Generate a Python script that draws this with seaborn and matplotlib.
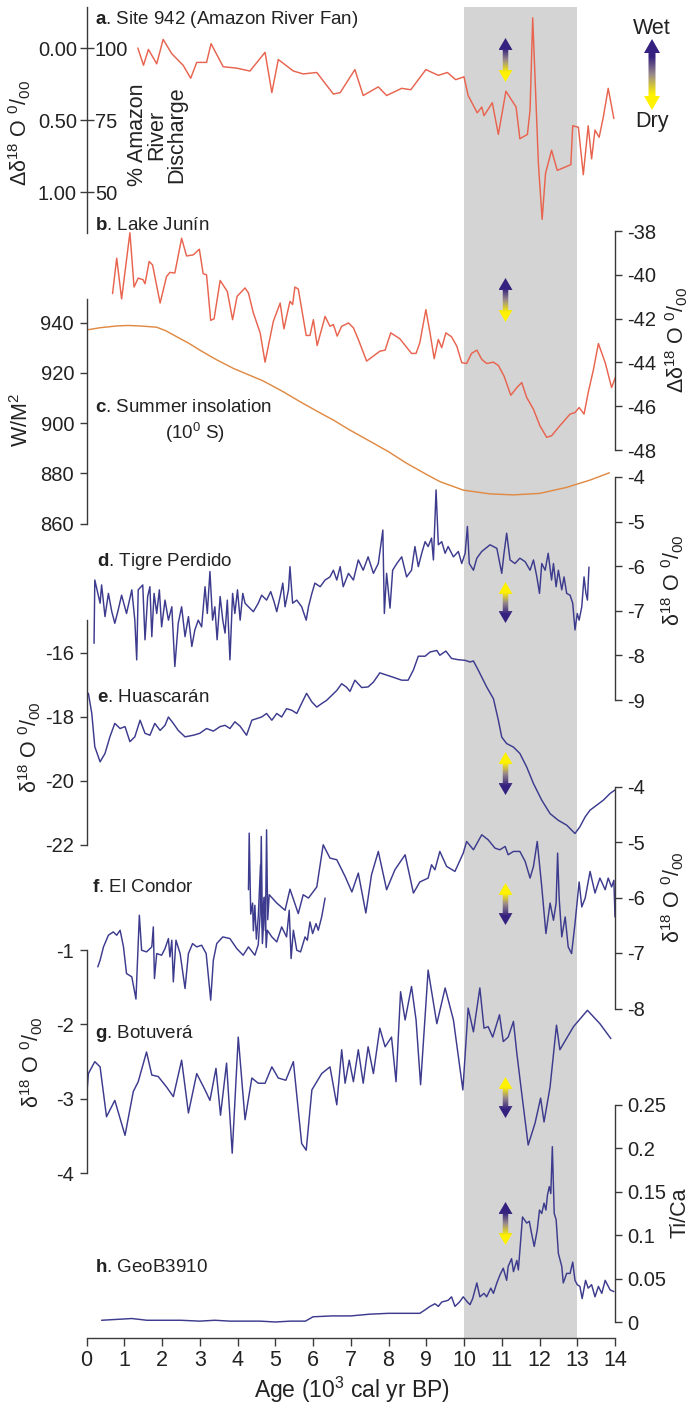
import numpy as np
import matplotlib
matplotlib.use("Agg")
import matplotlib.pyplot as plt
import seaborn as sns
from matplotlib.patches import Polygon
from matplotlib.colors import LinearSegmentedColormap

# ---------------- records (age in kyr BP) ----------------
site942_age = [1.36, 1.51, 1.64, 1.86, 2.03, 2.26, 2.56, 2.76, 2.92, 3.18, 3.30, 3.62, 3.98, 4.33,
               4.73, 4.91, 5.08, 5.48, 5.74, 6.10, 6.54, 6.72, 7.11, 7.33, 7.73, 7.95, 8.35, 8.59,
               8.99, 9.32, 9.56, 9.78, 10.00, 10.11, 10.35, 10.47, 10.53, 10.75, 10.91, 11.11,
               11.38, 11.48, 11.68, 11.75, 11.82, 11.97, 12.07, 12.16, 12.32, 12.47, 12.83, 12.88,
               13.03, 13.16, 13.29, 13.38, 13.47, 13.58, 13.69, 13.82, 13.97]
site942_dd18o = [0.00, 0.12, 0.01, 0.11, -0.06, 0.04, 0.12, 0.21, 0.10, 0.10, -0.03, 0.13, 0.14, 0.16,
                 0.03, 0.31, 0.08, 0.16, 0.18, 0.17, 0.32, 0.31, 0.15, 0.33, 0.27, 0.33, 0.28, 0.29,
                 0.15, 0.19, 0.17, 0.22, 0.20, 0.33, 0.45, 0.41, 0.47, 0.38, 0.60, 0.30,
                 0.41, 0.63, 0.60, 0.43, -0.21, 0.80, 1.19, 0.87, 0.71, 0.85, 0.81, 0.54,
                 0.55, 0.88, 0.54, 0.77, 0.57, 0.62, 0.48, 0.28, 0.49]

junin_age = [0.69, 0.80, 0.93, 1.15, 1.26, 1.37, 1.50, 1.55, 1.66, 1.75, 1.95, 2.12, 2.21, 2.34, 2.52,
             2.65, 2.83, 2.99, 3.09, 3.18, 3.29, 3.38, 3.54, 3.73, 3.87, 3.99, 4.20, 4.29, 4.42, 4.60,
             4.73, 4.95, 5.13, 5.23, 5.30, 5.39, 5.46, 5.52, 5.61, 5.82, 5.92, 6.01, 6.11, 6.32, 6.45,
             6.54, 6.64, 6.76, 6.94, 7.07, 7.20, 7.42, 7.60, 7.77, 7.91, 8.06, 8.30, 8.61, 8.73, 8.83,
             8.99, 9.10, 9.21, 9.32, 9.41, 9.52, 9.67, 9.81, 9.94, 10.07, 10.20, 10.34, 10.47, 10.60,
             10.78, 10.91, 11.06, 11.24, 11.40, 11.53, 11.66, 11.84, 12.01, 12.19, 12.32, 12.54,
             12.81, 12.94, 13.05, 13.18, 13.29, 13.43, 13.56, 13.74, 13.91, 14.03]
junin_dd18o = [-40.86, -39.24, -41.10, -38.08, -40.56, -40.15, -40.23, -40.41, -39.39, -39.55, -41.29,
               -40.08, -39.89, -39.92, -38.33, -39.14, -39.09, -38.83, -39.95, -40.00, -42.08, -42.01,
               -40.26, -40.76, -42.05, -40.98, -40.60, -40.83, -41.74, -42.65, -43.99, -42.12, -41.29,
               -42.47, -41.90, -41.21, -41.36, -40.56, -40.65, -42.77, -42.77, -42.05, -43.23, -41.90,
               -42.35, -42.27, -42.80, -42.35, -42.20, -42.42, -42.95, -43.94, -43.71, -43.49, -43.44,
               -42.65, -42.92, -43.59, -43.59, -43.10, -41.59, -42.65, -43.83, -42.95, -43.33, -42.65,
               -42.83, -43.26, -44.01, -44.05, -43.59, -43.44, -43.86, -44.05, -43.99, -44.14, -44.62,
               -45.50, -45.15, -44.92, -45.60, -46.14, -46.89, -47.42, -47.35, -46.89, -46.36, -46.29,
               -46.06, -46.36, -45.38, -44.32, -43.14, -44.01, -45.15, -44.59]

insol_age = [0.0, 0.36, 0.8, 1.1, 1.42, 1.86, 2.1, 2.39, 2.7, 3.0, 3.4, 3.89, 4.3, 4.68, 5.2, 5.66,
             6.1, 6.54, 6.98, 7.6, 8.0, 8.48, 9.0, 9.36, 9.98, 10.69, 11.31, 12.01, 12.72, 13.34, 13.85]
insol_wm2 = [937.1, 938.0, 938.7, 938.9, 938.7, 938.2, 936.8, 934.4, 931.9, 929.1, 925.6, 921.8,
             919.2, 916.8, 912.6, 908.5, 904.8, 901.2, 897.2, 892.0, 888.6, 884.0, 879.6, 876.7,
             873.3, 871.8, 871.4, 872.0, 874.4, 877.3, 880.2]

tigre_age = [0.20, 0.22, 0.36, 0.40, 0.49, 0.58, 0.67, 0.75, 0.84, 0.93, 1.06, 1.20, 1.28, 1.33, 1.37,
             1.49, 1.55, 1.62, 1.68, 1.73, 1.79, 1.86, 1.93, 1.99, 2.08, 2.17, 2.26, 2.34, 2.43, 2.52,
             2.61, 2.70, 2.79, 2.87, 2.96, 3.05, 3.14, 3.20, 3.27, 3.34, 3.40, 3.46, 3.54, 3.61, 3.67,
             3.73, 3.80, 3.87, 3.93, 4.00, 4.07, 4.14, 4.20, 4.29, 4.42, 4.55, 4.64, 4.77, 4.88, 4.97,
             5.04, 5.13, 5.20, 5.26, 5.35, 5.39, 5.46, 5.57, 5.70, 5.82, 5.88, 5.97, 6.05, 6.19, 6.32,
             6.45, 6.54, 6.63, 6.72, 6.80, 6.94, 7.07, 7.20, 7.33, 7.46, 7.60, 7.73, 7.85, 7.89, 7.95,
             8.04, 8.11, 8.22, 8.35, 8.48, 8.61, 8.70, 8.79, 8.88, 8.97, 9.05, 9.14, 9.19, 9.26, 9.32,
             9.41, 9.50, 9.58, 9.72, 9.85, 9.94, 10.03, 10.09, 10.14, 10.25, 10.34, 10.47, 10.69,
             10.87, 11.00, 11.06, 11.13, 11.22, 11.35, 11.48, 11.62, 11.75, 11.84, 11.93, 12.00,
             12.06, 12.15, 12.23, 12.32, 12.37, 12.44, 12.50, 12.59, 12.65, 12.72, 12.81, 12.88,
             12.94, 13.00, 13.05, 13.12, 13.18, 13.23, 13.27, 13.31]
tigre_d18o = [-7.73, -6.31, -6.83, -6.42, -7.13, -6.61, -7.02, -7.28, -6.98, -6.65, -7.06, -6.53, -7.21,
              -8.10, -6.53, -6.42, -7.65, -6.68, -6.46, -7.58, -6.61, -7.06, -6.53, -7.36, -6.76,
              -7.21, -6.91, -8.25, -7.28, -6.91, -7.58, -7.13, -7.80, -7.43, -7.21, -7.36, -6.46,
              -7.06, -6.12, -7.21, -6.91, -7.65, -6.68, -7.21, -7.50, -6.76, -8.10, -6.61, -7.06,
              -6.53, -7.21, -6.61, -6.83, -6.91, -7.02, -6.83, -6.65, -6.76, -6.57, -6.80, -7.02,
              -6.68, -6.38, -6.91, -6.53, -6.01, -6.83, -6.76, -6.91, -7.21, -6.91, -6.61, -6.38,
              -6.46, -6.31, -6.24, -6.09, -6.31, -6.01, -6.46, -6.16, -6.31, -5.86, -6.09, -5.79,
              -6.16, -5.94, -5.19, -7.06, -6.16, -6.94, -6.09, -5.94, -5.79, -6.24, -6.09, -5.56,
              -6.01, -5.71, -5.45, -5.56, -5.37, -5.86, -4.29, -5.52, -5.45, -5.71, -5.56, -5.79,
              -5.67, -5.94, -5.71, -5.11, -5.94, -6.09, -5.82, -5.67, -5.52, -5.60, -6.16, -5.71,
              -5.26, -5.86, -5.94, -5.82, -5.90, -6.09, -5.86, -6.24, -6.61, -5.94, -6.09, -5.71,
              -6.31, -5.94, -6.46, -6.09, -6.53, -6.24, -6.61, -6.65, -6.83, -7.43, -7.06, -7.21,
              -6.91, -6.24, -6.61, -6.76, -6.02]

huas_age = [0.00, 0.05, 0.14, 0.22, 0.36, 0.49, 0.62, 0.75, 0.89, 1.02, 1.15, 1.28, 1.42, 1.55, 1.68,
            1.81, 1.95, 2.08, 2.17, 2.30, 2.43, 2.61, 2.83, 3.00, 3.18, 3.36, 3.54, 3.67, 3.80, 3.93,
            4.07, 4.24, 4.38, 4.51, 4.64, 4.77, 4.91, 5.04, 5.17, 5.30, 5.44, 5.57, 5.70, 5.83, 5.97,
            6.10, 6.23, 6.36, 6.50, 6.63, 6.76, 6.89, 6.98, 7.11, 7.29, 7.46, 7.60, 7.77, 7.95, 8.13,
            8.35, 8.52, 8.66, 8.79, 8.97, 9.10, 9.28, 9.36, 9.52, 9.67, 9.85, 10.03, 10.16, 10.25,
            10.38, 10.60, 10.78, 10.91, 11.00, 11.13, 11.31, 11.48, 11.66, 11.84, 12.06, 12.28,
            12.50, 12.72, 12.94, 13.07, 13.21, 13.34, 13.51, 13.69, 13.87, 14.00]
huas_d18o = [-17.26, -17.26, -17.89, -18.93, -19.40, -19.14, -18.62, -18.20, -18.36, -18.30, -18.77,
             -18.62, -18.10, -18.51, -18.57, -18.20, -18.42, -18.26, -18.00, -18.20, -18.42, -18.62,
             -18.57, -18.51, -18.36, -18.44, -18.30, -18.26, -18.36, -18.15, -18.29, -18.57, -18.10,
             -18.05, -18.00, -17.89, -18.10, -17.89, -18.00, -17.74, -17.79, -17.89, -17.57, -17.26,
             -17.53, -17.69, -17.58, -17.48, -17.32, -17.17, -16.96, -17.07, -17.20, -16.85, -17.08,
             -17.06, -16.91, -16.62, -16.69, -16.76, -16.85, -16.85, -16.53, -16.10, -16.10, -15.97,
             -15.92, -16.07, -15.94, -16.17, -16.21, -16.23, -16.28, -16.25, -16.54, -17.06, -17.43,
             -18.10, -18.63, -18.83, -18.94, -19.14, -19.56, -20.08, -20.60, -21.02, -21.23, -21.38,
             -21.64, -21.43, -21.12, -20.91, -20.76, -20.60, -20.39, -20.28]

condor_age = [0.30, 0.36, 0.45, 0.58, 0.71, 0.80, 0.89, 0.98, 1.06, 1.20, 1.31, 1.40, 1.46, 1.59, 1.73,
              1.77, 1.80, 1.86, 1.99, 2.08, 2.17, 2.21, 2.26, 2.30, 2.37, 2.48, 2.61, 2.70, 2.81, 2.92,
              3.05, 3.17, 3.29, 3.36, 3.45, 3.61, 3.80, 3.98, 4.15, 4.29, 4.46, 4.55, 4.60, 4.63, 4.66,
              4.70, 4.74, 4.77, 4.80, 4.84, 5.04, 5.26, 5.39, 5.61, 5.74, 5.88, 6.10, 6.27, 6.45, 6.63,
              6.85, 7.03, 7.20, 7.40, 7.55, 7.73, 7.95, 8.17, 8.44, 8.66, 8.83, 9.05, 9.14, 9.23, 9.36,
              9.54, 9.76, 9.98, 10.07, 10.25, 10.47, 10.64, 10.82, 10.95, 11.09, 11.17, 11.31, 11.48,
              11.62, 11.75, 11.84, 11.94, 12.06, 12.17, 12.28, 12.37, 12.44, 12.48, 12.52, 12.59,
              12.68, 12.76, 12.85, 12.94, 13.05, 13.12, 13.21, 13.34, 13.47, 13.60, 13.74, 13.82,
              13.91, 13.97, 14.00]
condor_d18o = [-7.25, -7.13, -6.89, -6.68, -6.62, -6.68, -6.59, -6.89, -7.37, -7.43, -7.83, -6.32,
               -6.95, -6.98, -6.89, -6.53, -7.46, -7.01, -7.04, -6.92, -6.74, -7.07, -6.77, -7.52,
               -6.77, -7.01, -7.64, -7.01, -6.83, -6.89, -6.86, -7.01, -7.85, -7.13, -6.83, -6.71,
               -6.74, -6.92, -7.04, -6.89, -7.04, -6.85, -6.30, -4.90, -6.55, -6.00, -6.60, -4.78,
               -6.40, -5.95, -6.10, -6.23, -5.85, -6.29, -5.95, -6.01, -5.81, -5.05, -5.29, -5.32,
               -5.62, -5.90, -5.56, -6.28, -5.59, -5.17, -5.86, -5.50, -5.23, -5.92, -5.72, -5.65,
               -5.41, -5.50, -5.17, -5.44, -5.53, -5.20, -4.99, -5.14, -4.87, -4.96, -5.11, -5.14,
               -5.08, -5.23, -5.17, -5.17, -5.35, -5.65, -5.44, -4.99, -5.81, -6.65, -6.10, -6.41,
               -6.10, -5.20, -6.00, -6.71, -6.35, -6.89, -7.01, -6.47, -5.72, -6.17, -6.01, -5.53,
               -5.92, -5.65, -5.86, -5.65, -5.81, -5.69, -6.35]

condor_hr_age = [4.29, 4.31, 4.35, 4.40, 4.42, 4.46, 4.50, 4.55, 4.61, 4.66, 4.73, 4.76, 4.79, 4.91,
                 5.04, 5.17, 5.30, 5.37, 5.42, 5.48, 5.57, 5.67, 5.79, 5.85, 5.92, 5.99, 6.08, 6.14,
                 6.23, 6.32]
condor_hr_d18o = [-5.86, -4.84, -6.30, -6.10, -6.60, -6.14, -6.75, -6.35, -5.41, -6.83, -5.99, -6.90,
                  -6.59, -6.71, -6.80, -6.53, -6.71, -6.23, -7.10, -6.59, -6.95, -6.98, -6.71, -6.77,
                  -6.44, -6.65, -6.47, -6.59, -6.35, -6.01]

botu_age = [0.00, 0.05, 0.22, 0.36, 0.53, 0.75, 1.02, 1.24, 1.37, 1.59, 1.73, 1.90, 2.12, 2.30, 2.52,
            2.70, 2.92, 3.14, 3.27, 3.43, 3.55, 3.71, 3.86, 4.02, 4.20, 4.38, 4.55, 4.73, 4.91, 5.08,
            5.28, 5.48, 5.70, 5.82, 5.97, 6.23, 6.45, 6.63, 6.76, 6.85, 6.96, 7.07, 7.20, 7.33, 7.46,
            7.60, 7.77, 7.91, 8.08, 8.20, 8.32, 8.44, 8.61, 8.73, 8.85, 9.05, 9.28, 9.50, 9.72, 9.97,
            10.11, 10.25, 10.42, 10.53, 10.64, 10.76, 10.94, 11.04, 11.17, 11.31, 11.40, 11.53,
            11.70, 11.88, 12.03, 12.12, 12.28, 12.45, 12.54, 12.90, 13.27, 13.60, 13.89]
botu_d18o = [-2.99, -2.66, -2.50, -2.57, -3.24, -3.02, -3.49, -2.90, -2.77, -2.37, -2.68, -2.70, -2.84,
             -2.97, -2.48, -3.19, -2.66, -2.88, -3.02, -2.59, -3.22, -2.52, -3.73, -2.17, -3.28, -2.72,
             -2.79, -2.79, -2.57, -2.72, -2.75, -2.50, -3.60, -3.69, -2.88, -2.66, -2.57, -3.08, -2.34,
             -2.79, -2.48, -2.77, -2.34, -2.79, -2.30, -2.66, -2.05, -2.30, -2.17, -2.77, -1.56, -1.94,
             -1.49, -1.94, -2.81, -1.27, -1.99, -1.51, -1.94, -2.88, -1.78, -2.10, -1.51, -2.05, -2.03,
             -2.17, -1.87, -2.23, -2.17, -1.96, -2.39, -2.93, -3.62, -3.33, -2.99, -3.31, -2.84, -2.01,
             -2.34, -2.03, -1.81, -1.99, -2.19]

geob_age = [0.40, 0.80, 1.20, 1.60, 2.00, 2.50, 3.00, 3.40, 3.80, 4.20, 4.60, 5.00, 5.40, 5.80, 6.00,
            6.50, 7.00, 7.50, 8.00, 8.50, 8.83, 8.97, 9.10, 9.23, 9.32, 9.41, 9.58, 9.67, 9.76, 9.88,
            9.98, 10.09, 10.16, 10.23, 10.34, 10.42, 10.53, 10.60, 10.71, 10.78, 10.87, 10.95, 11.04,
            11.13, 11.17, 11.26, 11.31, 11.40, 11.44, 11.55, 11.66, 11.73, 11.79, 11.86, 11.94, 12.00,
            12.06, 12.12, 12.17, 12.21, 12.26, 12.30, 12.34, 12.39, 12.44, 12.50, 12.59, 12.63, 12.72,
            12.81, 12.88, 12.94, 13.00, 13.07, 13.13, 13.22, 13.29, 13.38, 13.47, 13.56, 13.65, 13.74,
            13.87, 13.97]
geob_tica = [0.002, 0.003, 0.004, 0.002, 0.002, 0.002, 0.001, 0.002, 0.001, 0.001, 0.001, 0.000, 0.001,
             0.001, 0.006, 0.007, 0.007, 0.009, 0.010, 0.010, 0.010, 0.014, 0.018, 0.021, 0.018, 0.023,
             0.025, 0.029, 0.018, 0.023, 0.029, 0.023, 0.020, 0.027, 0.045, 0.029, 0.033, 0.029, 0.039,
             0.033, 0.045, 0.054, 0.062, 0.048, 0.064, 0.073, 0.058, 0.071, 0.060, 0.121, 0.114, 0.116,
             0.102, 0.087, 0.106, 0.129, 0.125, 0.137, 0.129, 0.146, 0.156, 0.148, 0.202, 0.125, 0.118,
             0.079, 0.064, 0.045, 0.056, 0.056, 0.069, 0.048, 0.043, 0.041, 0.027, 0.048, 0.039, 0.043,
             0.029, 0.041, 0.033, 0.048, 0.037, 0.035]

age_ticks = list(range(0, 15))
ycd_interval = (10, 13)

# ---------------- style ----------------
sns.set_style("white")
plt.rcParams['font.family'] = ['Liberation Sans', 'DejaVu Sans']
plt.rcParams['mathtext.fontset'] = 'custom'
plt.rcParams['mathtext.rm'] = 'Liberation Sans'
plt.rcParams['mathtext.it'] = 'Liberation Sans:italic'
plt.rcParams['mathtext.bf'] = 'Liberation Sans:bold'
plt.rcParams['axes.unicode_minus'] = False

RED = '#e8644f'
BLUE = '#3d3b8e'
ORANGE = '#e08b45'
AXC = '#3a3a3a'
TXT = '#222222'
PURPLE = '#35217f'
MID = '#9a8a8a'
YELLOW = '#fff200'
TICK_FS = 14.5
LAB_FS = 15.5
TITLE_FS = 13.5

W, H = 690, 1403
fig = plt.figure(figsize=(W / 100, H / 100), dpi=100)
L, R = 86.5, 615.0

# overlay in pixel units for annotations
ov = fig.add_axes([0, 0, 1, 1])
ov.set_xlim(0, W)
ov.set_ylim(H, 0)
ov.axis('off')
ov.set_zorder(10)
ov.patch.set_alpha(0)


def frame(top, bottom):
    ax = fig.add_axes([L / W, 1 - bottom / H, (R - L) / W, (bottom - top) / H])
    ax.set_facecolor('none')
    ax.set_xlim(0, 14)
    return ax


# background: grey interval + age axis
bg = frame(7, 1338)
bg.set_zorder(0)
bg.axvspan(*ycd_interval, color='#d4d4d4', lw=0)
bg.set_ylim(0, 1)
for s in ['top', 'left', 'right']:
    bg.spines[s].set_visible(False)
bg.spines['bottom'].set_color(AXC)
bg.spines['bottom'].set_linewidth(1.0)
bg.spines['bottom'].set_bounds(0, 14)
bg.set_yticks([])
bg.xaxis.set_ticks_position('bottom')
bg.set_xticks(age_ticks)
bg.set_xticklabels([str(t) for t in age_ticks])
bg.tick_params(axis='x', direction='out', length=6, width=1, colors=AXC, labelcolor=TXT,
               labelsize=TICK_FS + 1, pad=3)
bg.set_xlabel('Age (10$^{3}$ cal yr BP)', fontsize=LAB_FS + 1, color=TXT)
bg.xaxis.set_label_coords(352, 1390, transform=ov.transData)
bg.xaxis.label.set_va('center')


def panel(top, bottom, p1, v1, p2, v2, side, lo, hi, ticks, labels):
    ax = frame(top, bottom)
    ax.set_zorder(2)
    k = (v2 - v1) / (p2 - p1)
    ax.set_ylim(v1 + (bottom - p1) * k, v1 + (top - p1) * k)
    for s in ['top', 'bottom', 'left', 'right']:
        ax.spines[s].set_visible(False)
    ax.spines[side].set_visible(True)
    ax.spines[side].set_bounds(lo, hi)
    ax.spines[side].set_color(AXC)
    ax.spines[side].set_linewidth(1.0)
    ax.xaxis.set_visible(False)
    ax.yaxis.set_ticks_position(side)
    ax.yaxis.set_label_position(side)
    ax.set_yticks(ticks)
    ax.set_yticklabels(labels)
    ax.tick_params(axis='y', direction='out', length=5, width=1, colors=AXC,
                   labelcolor=TXT, labelsize=TICK_FS, pad=4)
    return ax


def ylabel(ax, text, x, y):
    ax.set_ylabel(text, fontsize=LAB_FS, color=TXT, rotation=90)
    ax.yaxis.set_label_coords(x, y, transform=ov.transData)
    ax.yaxis.label.set_va('center')
    ax.yaxis.label.set_ha('center')


def trace(ax, x, y, color):
    sns.lineplot(x=x, y=y, ax=ax, color=color, linewidth=1.05, sort=False,
                 estimator=None, legend=False)
    ax.set_xlim(0, 14)
    ax.set_xlabel('')


D18 = 'δ$^{18}$ O $^{0}$/$_{00}$'
DD18 = 'Δδ$^{18}$ O $^{0}$/$_{00}$'

# a. Site 942
ax_a = panel(0, 240, 48, 0.0, 192, 1.0, 'left', -0.285, 1.285,
             [0.0, 0.5, 1.0], ['0.00', '0.50', '1.00'])
ax_a.tick_params(axis='y', length=5, pad=2)
trace(ax_a, site942_age, site942_dd18o, RED)
ylabel(ax_a, DD18, 20, 133)
ya0, ya1 = ax_a.get_ylim()
ax_a2 = ax_a.twinx()
ax_a2.set_facecolor('none')
ax_a2.set_ylim(100 - 50 * ya0, 100 - 50 * ya1)
for s in ax_a2.spines.values():
    s.set_visible(False)
ax_a2.spines['right'].set_position(('axes', 0))
ax_a2.yaxis.set_ticks_position('right')
ax_a2.set_yticks([100, 75, 50])
ax_a2.set_yticklabels(['100', '75', '50'])
ax_a2.tick_params(axis='y', direction='out', length=5, width=1, colors=AXC,
                  labelcolor=TXT, labelsize=TICK_FS, pad=1)
ax_a2.xaxis.set_visible(False)
ov.text(157, 135, '% Amazon\nRiver\nDischarge', rotation=90, ha='center', va='center',
        multialignment='center', fontsize=LAB_FS, color=TXT, linespacing=0.9)

# b. Lake Junin
ax_b = panel(200, 470, 231, -38, 450, -48, 'right', -48, -38,
             list(range(-38, -49, -2)), [str(v) for v in range(-38, -49, -2)])
trace(ax_b, junin_age, junin_dd18o, RED)
ylabel(ax_b, DD18, 677, 340)

# c. Summer insolation
ax_c = panel(290, 530, 322.7, 940, 473.3, 880, 'left', 860, 949.6,
             [860, 880, 900, 920, 940], ['860', '880', '900', '920', '940'])
trace(ax_c, insol_age, insol_wm2, ORANGE)
ylabel(ax_c, 'W/M$^{2}$', 22, 420)

# d. Tigre Perdido
ax_d = panel(470, 710, 477, -4, 700, -9, 'right', -9, -4,
             list(range(-4, -10, -1)), [str(v) for v in range(-4, -10, -1)])
trace(ax_d, tigre_age, tigre_d18o, BLUE)
ylabel(ax_d, D18, 673, 580)

# e. Huascaran
ax_e = panel(610, 850, 653, -16, 845, -22, 'left', -22, -14.97,
             [-16, -18, -20, -22], ['-16', '-18', '-20', '-22'])
trace(ax_e, huas_age, huas_d18o, BLUE)
ylabel(ax_e, D18, 30, 747)

# f. El Condor
ax_f = panel(780, 1015, 786.5, -4, 1008.5, -8, 'right', -8, -4,
             list(range(-4, -9, -1)), [str(v) for v in range(-4, -9, -1)])
trace(ax_f, condor_age, condor_d18o, BLUE)
trace(ax_f, condor_hr_age, condor_hr_d18o, BLUE)
ylabel(ax_f, D18, 673, 897)

# g. Botuvera
ax_g = panel(940, 1180, 950, -1, 1173.3, -4, 'left', -4, -1,
             [-1, -2, -3, -4], ['-1', '-2', '-3', '-4'])
trace(ax_g, botu_age, botu_d18o, BLUE)
ylabel(ax_g, D18, 32, 1062)

# h. GeoB3910
ax_h = panel(1100, 1330, 1105, 0.25, 1322, 0.0, 'right', 0, 0.25,
             [0, 0.05, 0.1, 0.15, 0.2, 0.25], ['0', '0.05', '0.1', '0.15', '0.2', '0.25'])
trace(ax_h, geob_age, geob_tica, BLUE)
ylabel(ax_h, 'Ti/Ca', 680, 1213)

# panel titles
titles = [
    (95, 20, r'$\mathbf{a}$. Site 942 (Amazon River Fan)'),
    (95, 225, r'$\mathbf{b}$. Lake Junín'),
    (95, 407, r'$\mathbf{c}$. Summer insolation'),
    (97, 562, r'$\mathbf{d}$. Tigre Perdido'),
    (97, 697, r'$\mathbf{e}$. Huascarán'),
    (92, 888, r'$\mathbf{f}$. El Condor'),
    (95, 1033, r'$\mathbf{g}$. Botuverá'),
    (95, 1268, r'$\mathbf{h}$. GeoB3910'),
]
for x, y, s in titles:
    ov.text(x, y, s, ha='left', va='center', fontsize=TITLE_FS, color=TXT)
ov.text(195, 433, '(10$^{0}$ S)', ha='center', va='center', fontsize=TITLE_FS, color=TXT)


# wet/dry gradient arrows
def grad_arrow(xc, y0, y1, top_col, bot_col, shaft=5.5, head=14.0, head_len=12.0):
    verts = [(xc, y0), (xc + head / 2, y0 + head_len), (xc + shaft / 2, y0 + head_len),
             (xc + shaft / 2, y1 - head_len), (xc + head / 2, y1 - head_len), (xc, y1),
             (xc - head / 2, y1 - head_len), (xc - shaft / 2, y1 - head_len),
             (xc - shaft / 2, y0 + head_len), (xc - head / 2, y0 + head_len)]
    poly = Polygon(verts, closed=True, facecolor='none', edgecolor='none')
    ov.add_patch(poly)
    cmap = LinearSegmentedColormap.from_list(
        'wetdry', [(0.0, top_col), (0.25, top_col), (0.5, MID), (0.78, bot_col), (1.0, bot_col)])
    grad = np.linspace(0, 1, 256).reshape(-1, 1)
    im = ov.imshow(grad, cmap=cmap, extent=(xc - head / 2, xc + head / 2, y1, y0),
                   origin='upper', aspect='auto', interpolation='bilinear')
    im.set_clip_path(poly)


AX_ARROW = 505.5
grad_arrow(AX_ARROW, 38, 82, PURPLE, YELLOW)
grad_arrow(AX_ARROW, 278, 322, PURPLE, YELLOW)
grad_arrow(AX_ARROW, 582, 623, YELLOW, PURPLE)
grad_arrow(AX_ARROW, 752, 795, YELLOW, PURPLE)
grad_arrow(AX_ARROW, 883, 925, YELLOW, PURPLE)
grad_arrow(AX_ARROW, 1077, 1118, YELLOW, PURPLE)
grad_arrow(AX_ARROW, 1202, 1245, PURPLE, YELLOW)
grad_arrow(652, 39, 110, PURPLE, YELLOW, shaft=7, head=16, head_len=14)
ov.text(652, 29, 'Wet', ha='center', va='center', fontsize=LAB_FS, color=TXT)
ov.text(652, 122, 'Dry', ha='center', va='center', fontsize=LAB_FS, color=TXT)
ov.set_xlim(0, W)
ov.set_ylim(H, 0)

fig.savefig('out.png', dpi=100)
